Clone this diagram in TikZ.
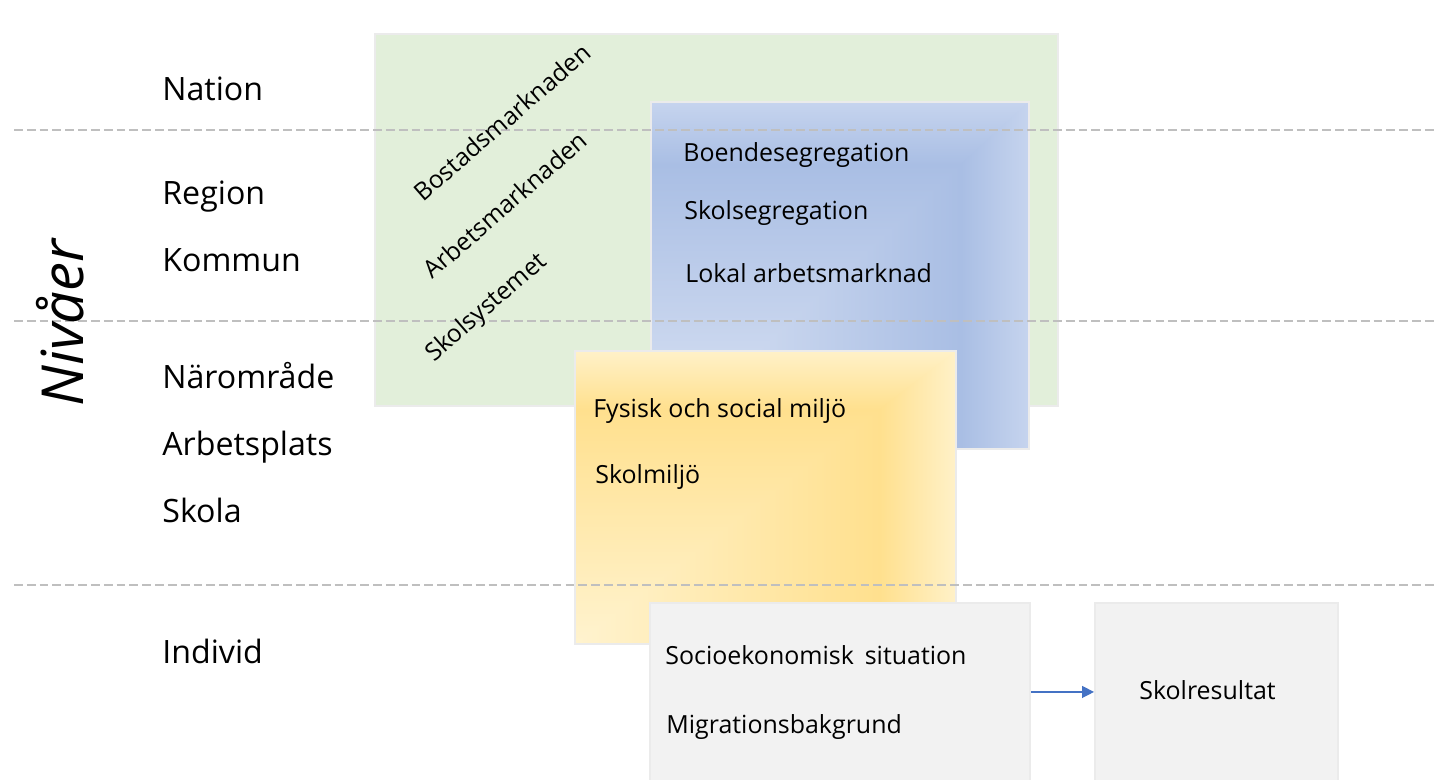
\documentclass[tikz,border=0pt]{standalone}
\usepackage{fontspec}
\setmainfont{Open Sans}
\usetikzlibrary{arrows.meta}

\definecolor{greenbg}{HTML}{E2EFDA}
\definecolor{greybg}{HTML}{F2F2F2}
\definecolor{edgegrey}{HTML}{EBEBEB}
\definecolor{sepgrey}{HTML}{BFBFBF}
\definecolor{arrowblue}{HTML}{4472C4}
\definecolor{bluepale}{HTML}{DCE4F4}
\definecolor{bluedark}{HTML}{A9BEE4}
\definecolor{bluelight}{HTML}{C6D4EE}
\definecolor{yelpale}{HTML}{FFF3CF}
\definecolor{yeldark}{HTML}{FFE08E}
\definecolor{yellight}{HTML}{FFF1C8}

% corner gradients: pale in the lower left, dark band, lighter rim
\pgfdeclarehorizontalshading{bluex}{100bp}{color(0bp)=(bluepale); color(25bp)=(bluepale); color(66bp)=(bluedark); color(75bp)=(bluelight); color(100bp)=(bluelight)}
\pgfdeclareverticalshading{bluey}{100bp}{color(0bp)=(bluepale); color(25bp)=(bluepale); color(66bp)=(bluedark); color(75bp)=(bluelight); color(100bp)=(bluelight)}
\pgfdeclarehorizontalshading{yelx}{100bp}{color(0bp)=(yelpale); color(25bp)=(yelpale); color(65bp)=(yeldark); color(75bp)=(yellight); color(100bp)=(yellight)}
\pgfdeclareverticalshading{yely}{100bp}{color(0bp)=(yelpale); color(25bp)=(yelpale); color(65bp)=(yeldark); color(75bp)=(yellight); color(100bp)=(yellight)}

\begin{document}
\begin{tikzpicture}[
    x=0.02cm, y=-0.02cm,
    box/.style={rectangle, draw=edgegrey, line width=1.1pt, inner sep=0pt, anchor=north west},
    lshade/.style={shade, shading=#1y, path picture={
        \begin{scope}
          \clip (path picture bounding box.south west) -- (path picture bounding box.north east)
                -- (path picture bounding box.south east) -- cycle;
          \shade[shading=#1x] (path picture bounding box.south west) rectangle (path picture bounding box.north east);
        \end{scope}}},
    lvl/.style={anchor=base west, inner sep=0pt, font=\fontsize{18.3}{22}\selectfont},
    txt/.style={anchor=base west, inner sep=0pt, font=\fontsize{14.2}{17}\selectfont},
    diag/.style={inner sep=0pt, rotate=41, font=\fontsize{14}{17}\selectfont},
    sep/.style={draw=sepgrey, line width=1.1pt, dash pattern=on 5pt off 2.3pt},
    arrow/.style={-{Triangle[length=6.8pt, width=6.8pt]}, draw=arrowblue, line width=0.75pt}
]
    \useasboundingbox (0,0) rectangle (1436,780);

    % Boxes
    \node[box, fill=greenbg, minimum width=13.66cm, minimum height=7.44cm] (natbox) at (374,33) {};
    \node[box, lshade=blue, minimum width=7.56cm, minimum height=6.94cm] (munbox) at (650,101) {};
    \node[box, lshade=yel, minimum width=7.62cm, minimum height=5.86cm] (narbox) at (574,350) {};
    \node[box, fill=greybg, minimum width=7.6cm, minimum height=3.56cm] (indbox) at (649,602) {};
    \node[box, fill=greybg, minimum width=4.86cm, minimum height=3.56cm] (resbox) at (1094,602) {};
    \draw[arrow] (indbox) -- (resbox);

    % Level separators
    \draw[sep] (14,130) -- (1436,130);
    \draw[sep] (14,321) -- (1436,321);
    \draw[sep] (14,585) -- (1436,585);

    % Levels
    \node[rotate=90, anchor=base, inner sep=0pt, font=\itshape\fontsize{33}{36}\selectfont] (niv) at (83,323) {Nivåer};
    \node[lvl] (nation) at (162,101) {Nation};
    \node[lvl] (region) at (162,205) {Region};
    \node[lvl] (kommun) at (162,272) {Kommun};
    \node[lvl] (naromr) at (162,388) {Närområde};
    \node[lvl] (arbpl) at (162,455) {Arbetsplats};
    \node[lvl] (skola) at (162,522) {Skola};
    \node[lvl] (individ) at (162,663) {Individ};

    % Nation
    \node[diag] (bostad) at (502,122) {Bostadsmarknaden};
    \node[diag] (arbmark) at (505,205) {Arbetsmarknaden};
    \node[diag] (skolsys) at (487,308) {Skolsystemet};

    % Region / kommun
    \node[txt] (boseg) at (683,162) {Boendesegregation};
    \node[txt] (skseg) at (684,220) {Skolsegregation};
    \node[txt] (lokarb) at (685,283) {Lokal arbetsmarknad};

    % Närområde / skola
    \node[txt] (fysisk) at (593,417) {Fysisk och social miljö};
    \node[txt] (skmiljo) at (595,483) {Skolmiljö};

    % Individ
    \node[txt] (socio) at (665,664) {Socioekonomisk\hspace{2.5pt} situation};
    \node[txt] (migr) at (666,733) {Migrationsbakgrund};
    \node[txt] (resultat) at (1139,699) {Skolresultat};
\end{tikzpicture}
\end{document}
